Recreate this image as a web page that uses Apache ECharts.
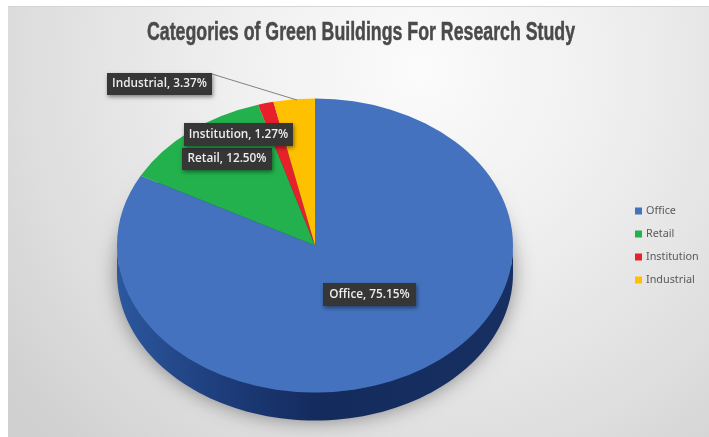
<!DOCTYPE html>
<html><head><meta charset="utf-8">
<style>html,body{margin:0;padding:0;background:#fff}#c{width:709px;height:437px}</style>
<script src="https://cdn.jsdelivr.net/npm/echarts@6/dist/echarts.min.js"></script>
</head><body><div id="c"></div>
<script>
var titleText = 'Categories of Green Buildings For Research Study';
var categories = ['Office', 'Retail', 'Institution', 'Industrial'];
var shares = [75.15, 12.50, 1.27, 3.37];
// the slices in the picture: the small ones at their printed percent, Office the rest of the circle
var sliceShares = [82.86, 12.50, 1.27, 3.37];
var colors = ['#4472BE', '#22B14C', '#E8202A', '#FFC000'];

// layout (pixels)
var CX = 315, CY = 245.5, RX = 198, RY = 147, DEPTH = 28;
var labelBoxes = [[323, 283, 93, 23], [182, 148, 90, 22], [184, 123, 109, 23], [107, 73, 105, 22]];
var leader = [[212, 74], [297, 100]];

var total = sliceShares.reduce(function (a, b) { return a + b; }, 0);
function startFrac(i) {
  var s = 0;
  for (var k = 0; k < i; k++) s += sliceShares[k];
  return s / total;
}
var TAU = Math.PI * 2;
function angles(i, v) {
  var a = -Math.PI / 2 + TAU * startFrac(i);
  return [a, a + TAU * v / total];
}
function wallPieces(a0, a1) {
  var out = [];
  [0, TAU].forEach(function (off) {
    var s = Math.max(a0, off), e = Math.min(a1, off + Math.PI);
    if (e > s) out.push([s, e]);
  });
  return out;
}
var wallFill = new echarts.graphic.LinearGradient(CX - RX, 0, CX + RX, 0, [
  { offset: 0, color: '#2C589E' },
  { offset: 0.25, color: '#1E3E7C' },
  { offset: 0.5, color: '#142B5E' },
  { offset: 1, color: '#182F62' }
], true);

function renderWall(params, api) {
  var i = params.seriesIndex, kids = [];
  var a = angles(i, api.value(0));
  wallPieces(a[0], a[1]).forEach(function (p) {
    var top = [], bot = [], n = 90;
    for (var k = 0; k <= n; k++) {
      var t = p[0] + (p[1] - p[0]) * k / n;
      top.push([CX + RX * Math.cos(t), CY + RY * Math.sin(t)]);
      bot.unshift([CX + RX * Math.cos(t), CY + DEPTH + RY * Math.sin(t)]);
    }
    // full disc underneath, only there to cast the soft shadow round the pie
    kids.push({
      type: 'ellipse',
      shape: { cx: CX, cy: CY + DEPTH - 4, rx: RX - 2, ry: RY - 2 },
      style: { fill: '#1E3E7C', shadowBlur: 22, shadowColor: 'rgba(0,0,0,0.5)', shadowOffsetY: 4 }
    });
    kids.push({
      type: 'polygon',
      shape: { points: top.concat(bot) },
      style: { fill: wallFill }
    });
  });
  return { type: 'group', children: kids };
}
function renderTop(i) {
  return function (params, api) {
    var a = angles(i, api.value(0));
    return {
      type: 'group', x: CX, y: CY, scaleY: RY / RX,
      children: [{
        type: 'sector',
        shape: { cx: 0, cy: 0, r0: 0, r: RX, startAngle: a[0], endAngle: a[1], clockwise: true },
        style: { fill: colors[i] }
      }]
    };
  };
}
function renderLabel(params, api) {
  var i = params.dataIndex, b = labelBoxes[i], kids = [];
  if (categories[i] === 'Industrial') {
    kids.push({
      type: 'line',
      shape: { x1: leader[0][0], y1: leader[0][1], x2: leader[1][0], y2: leader[1][1] },
      style: { stroke: '#8a8078', lineWidth: 1 }
    });
  }
  kids.push({
    type: 'rect',
    shape: { x: b[0], y: b[1], width: b[2], height: b[3] },
    style: { fill: '#363636', shadowBlur: 4, shadowColor: 'rgba(0,0,0,0.45)', shadowOffsetX: 1, shadowOffsetY: 2 }
  });
  kids.push({
    type: 'text',
    style: {
      x: b[0] + b[2] / 2, y: b[1] + b[3] / 2,
      text: categories[i] + ', ' + api.value(0).toFixed(2) + '%',
      fill: '#EDEDED', align: 'center', verticalAlign: 'middle',
      font: '600 11.8px "Open Sans", "Noto Sans", sans-serif'
    }
  });
  return { type: 'group', children: kids };
}

var series = [];
categories.forEach(function (name, i) {
  series.push({
    name: name, type: 'custom', coordinateSystem: 'none', z: 2, silent: true,
    itemStyle: { color: colors[i] },
    data: [[sliceShares[i]]], renderItem: renderWall
  });
});
categories.forEach(function (name, i) {
  series.push({
    name: name, type: 'custom', coordinateSystem: 'none', z: 3, silent: true,
    itemStyle: { color: colors[i] },
    data: [[sliceShares[i]]], renderItem: renderTop(i)
  });
});
series.push({
  name: 'labels', type: 'custom', coordinateSystem: 'none', z: 4, silent: true,
  data: shares.map(function (v) { return [v]; }), renderItem: renderLabel
});

var chart = echarts.init(document.getElementById('c'), null, { renderer: 'canvas' });
chart.setOption({
  animation: false,
  backgroundColor: '#FFFFFF',
  graphic: [{
    type: 'rect', z: -10, silent: true,
    shape: { x: 8, y: 7, width: 701, height: 430 },
    style: {
      fill: new echarts.graphic.RadialGradient(420, 70, 520, [
        { offset: 0, color: '#FBFBFB' },
        { offset: 0.35, color: '#F0F0F0' },
        { offset: 0.75, color: '#DEDEDE' },
        { offset: 1, color: '#D0D0D0' }
      ], true)
    }
  }, {
    type: 'line', z: -9, silent: true,
    shape: { x1: 8, y1: 6.5, x2: 709, y2: 6.5 },
    style: { stroke: '#D8D4D0', lineWidth: 1 }
  }, {
    type: 'text', z: 5, silent: true, x: 361, y: 33, scaleX: 0.71,
    style: {
      x: 0, y: 0, text: titleText, align: 'center', verticalAlign: 'middle',
      fill: '#4A4A4A', stroke: '#4A4A4A', lineWidth: 0.5,
      font: 'bold 25px "Liberation Sans", sans-serif'
    }
  }],
  legend: {
    data: categories, orient: 'vertical', left: 630, top: 199,
    icon: 'rect', itemWidth: 7, itemHeight: 7, itemGap: 9, selectedMode: false,
    textStyle: { fontFamily: '"Noto Sans", sans-serif', fontSize: 10.8, color: '#595959', padding: [0, 0, 0, -1], lineHeight: 14 }
  },
  series: series
});
</script></body></html>
